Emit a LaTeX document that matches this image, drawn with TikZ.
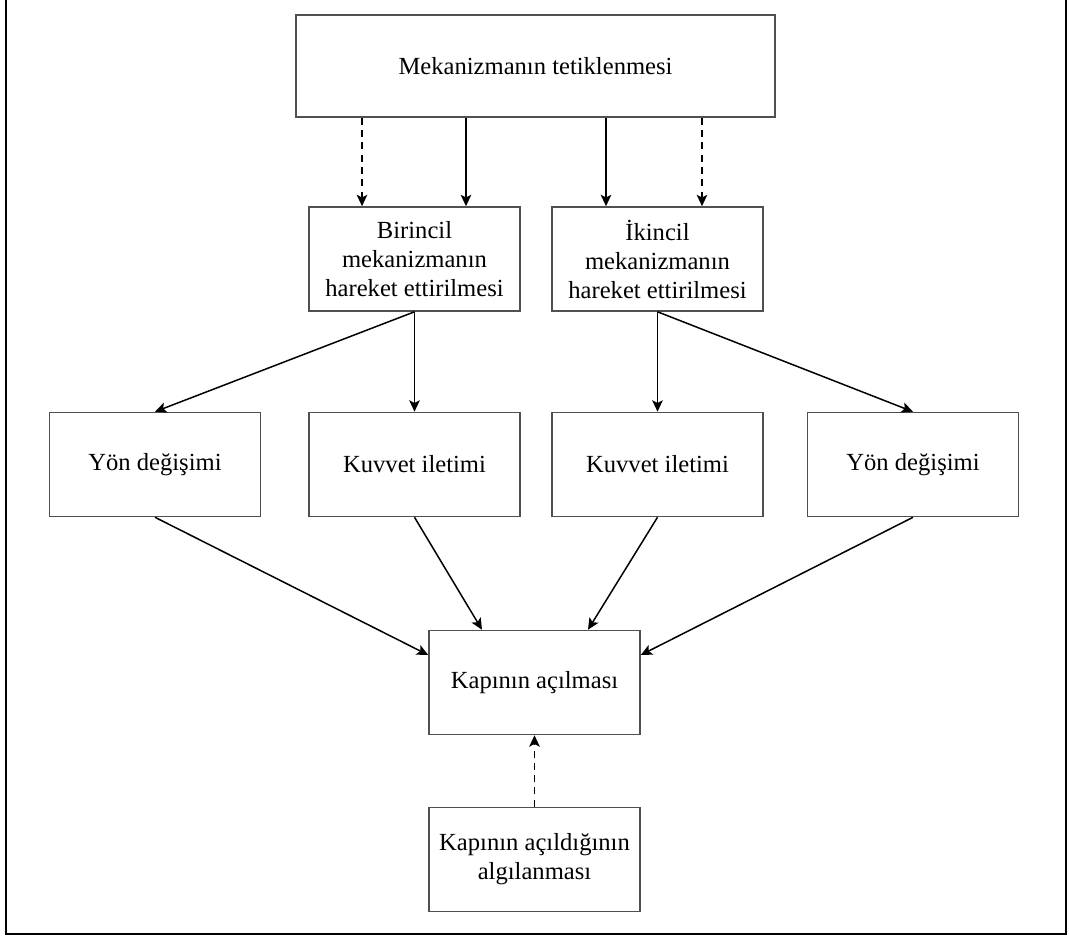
\documentclass[tikz,border=0pt]{standalone}
\usepackage{fontspec}
\setmainfont{Liberation Serif}
\usetikzlibrary{positioning}
\usetikzlibrary{arrows.meta}
\definecolor{boxgray}{RGB}{80,80,80}

\begin{document}
\begin{tikzpicture}[x=0.02cm,y=-0.02cm,
	box/.style={draw=boxgray, line width=0.9pt, align=center, inner sep=2pt,
		minimum width=4.22cm, minimum height=2.08cm,
		font=\fontsize{14}{16.5}\selectfont},
	arr/.style={-{Stealth[length=6.5pt,width=6pt,inset=1.5pt]}, line width=0.85pt},
	dsh/.style={arr, dash pattern=on 4pt off 3pt}]
	\useasboundingbox (0,0) rectangle (1069,936);

	% Frame
	\draw[line width=1.2pt] (6,0) -- (6,934) -- (1066,934) -- (1066,0);

	% Trigger
	\node[box, minimum width=9.58cm, minimum height=2.04cm] (tetik) at (535.5,66) {Mekanizmanın tetiklenmesi};

	% Mechanisms
	\node[box] (birincil) at (414.5,259) {Birincil\\mekanizmanın\\hareket ettirilmesi};
	\node[box] (ikincil) at (657.5,259) {İkincil\\mekanizmanın\\hareket ettirilmesi};

	% Effects
	\node[box] (yon1) at (155,464.5) {Yön değişimi};
	\node[box] (kuvvet1) at (414.5,464.5) {Kuvvet iletimi};
	\node[box] (kuvvet2) at (657.5,464.5) {Kuvvet iletimi};
	\node[box] (yon2) at (913,464.5) {Yön değişimi};

	% Result
	\node[box] (kapi) at (534.5,682.5) {Kapının açılması};
	\node[box] (algi) at (534.5,859.5) {Kapının açıldığının\\algılanması};

	% Trigger arrows
	\draw[dsh] ([xshift=-1.05cm]birincil.north |- tetik.south) -- ([xshift=-1.05cm]birincil.north);
	\draw[arr] ([xshift=1.03cm]birincil.north |- tetik.south) -- ([xshift=1.03cm]birincil.north);
	\draw[arr] ([xshift=-1.03cm]ikincil.north |- tetik.south) -- ([xshift=-1.03cm]ikincil.north);
	\draw[dsh] ([xshift=0.89cm]ikincil.north |- tetik.south) -- ([xshift=0.89cm]ikincil.north);

	% Mechanism arrows
	\draw[arr] (birincil.south) -- (yon1.north);
	\draw[arr] (birincil.south) -- (kuvvet1.north);
	\draw[arr] (ikincil.south) -- (kuvvet2.north);
	\draw[arr] (ikincil.south) -- (yon2.north);

	% Into the result
	\draw[arr] (yon1.south) -- ([yshift=0.55cm]kapi.west);
	\draw[arr] (kuvvet1.south) -- ([xshift=-1.05cm]kapi.north);
	\draw[arr] (kuvvet2.south) -- ([xshift=1.07cm]kapi.north);
	\draw[arr] (yon2.south) -- ([yshift=0.55cm]kapi.east);

	% Feedback
	\draw[dsh] (algi.north) -- (kapi.south);
\end{tikzpicture}
\end{document}
